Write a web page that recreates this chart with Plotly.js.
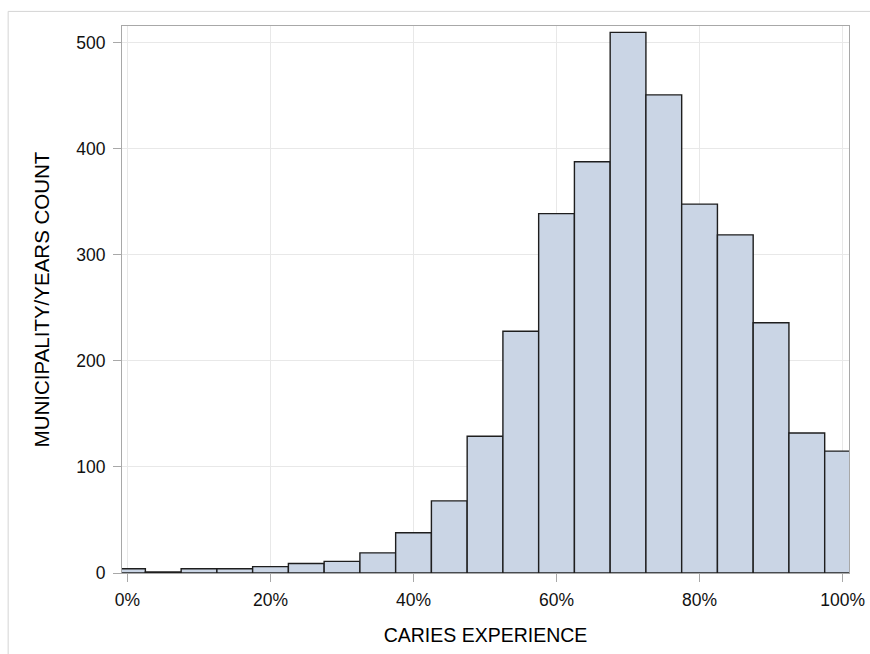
<!DOCTYPE html>
<html>
<head>
<meta charset="utf-8">
<script src="https://cdn.plot.ly/plotly-3.0.1.min.js"></script>
<style>
  html, body { margin: 0; padding: 0; background: #ffffff; }
  #chart { width: 870px; height: 654px; }
</style>
</head>
<body>
<div id="chart"></div>
<script>
// Histogram of caries experience: bin midpoints (percent) and counts
const binMidpoints = [0, 5, 10, 15, 20, 25, 30, 35, 40, 45, 50, 55, 60, 65, 70, 75, 80, 85, 90, 95, 100];
const binCounts = [4, 1, 4, 4, 6, 9, 11, 19, 38, 68, 129, 228, 339, 388, 510, 451, 348, 319, 236, 132, 115];
const binWidth = 5;

const xTickValues = [0, 20, 40, 60, 80, 100];
const yTickValues = [0, 100, 200, 300, 400, 500];

const xTitle = 'CARIES EXPERIENCE';
const yTitle = 'MUNICIPALITY/YEARS COUNT';

const fontFamily = '"Liberation Sans", Arial, Helvetica, sans-serif';

const trace = {
  type: 'bar',
  x: binMidpoints,
  y: binCounts,
  width: binMidpoints.map(() => binWidth),
  marker: {
    color: '#cad5e5',
    line: { color: '#1e1e1e', width: 1.4 }
  },
  hoverinfo: 'x+y'
};

const axisCommon = {
  showline: true,
  linecolor: '#a8a8a8',
  linewidth: 1,
  mirror: true,
  ticks: 'outside',
  ticklen: 8,
  tickwidth: 1,
  tickcolor: '#a8a8a8',
  showgrid: true,
  gridcolor: '#e8e8e8',
  gridwidth: 1,
  zeroline: false,
  tickfont: { family: fontFamily, size: 17.5, color: '#111111' }
};

const layout = {
  width: 870,
  height: 654,
  margin: { l: 122, r: 21, t: 26, b: 81 },
  paper_bgcolor: '#ffffff',
  plot_bgcolor: '#ffffff',
  showlegend: false,
  bargap: 0,
  font: { family: fontFamily, color: '#000000' },
  xaxis: Object.assign({}, axisCommon, {
    range: [-0.77, 100.9],
    tickvals: xTickValues,
    ticktext: xTickValues.map(v => v + '%'),
    ticklabelstandoff: 3,
    title: { text: xTitle, font: { family: fontFamily, size: 19.5, color: '#000000' }, standoff: 19 }
  }),
  yaxis: Object.assign({}, axisCommon, {
    range: [0, 516],
    tickvals: yTickValues,
    ticklabelstandoff: 4,
    title: { text: yTitle, font: { family: fontFamily, size: 20.5, color: '#000000' }, standoff: 21 }
  }),
  shapes: [
    // outer frame around the whole graph (top and left edges)
    { type: 'line', xref: 'paper', yref: 'paper', x0: -0.1566, x1: 1.1, y0: 1.0267, y1: 1.0267,
      line: { color: '#d4d4d4', width: 1 } },
    { type: 'line', xref: 'paper', yref: 'paper', x0: -0.1566, x1: -0.1566, y0: 1.0267, y1: -0.2,
      line: { color: '#d4d4d4', width: 1 } }
  ]
};

Plotly.newPlot('chart', [trace], layout, { displayModeBar: false, staticPlot: true });
</script>
</body>
</html>
